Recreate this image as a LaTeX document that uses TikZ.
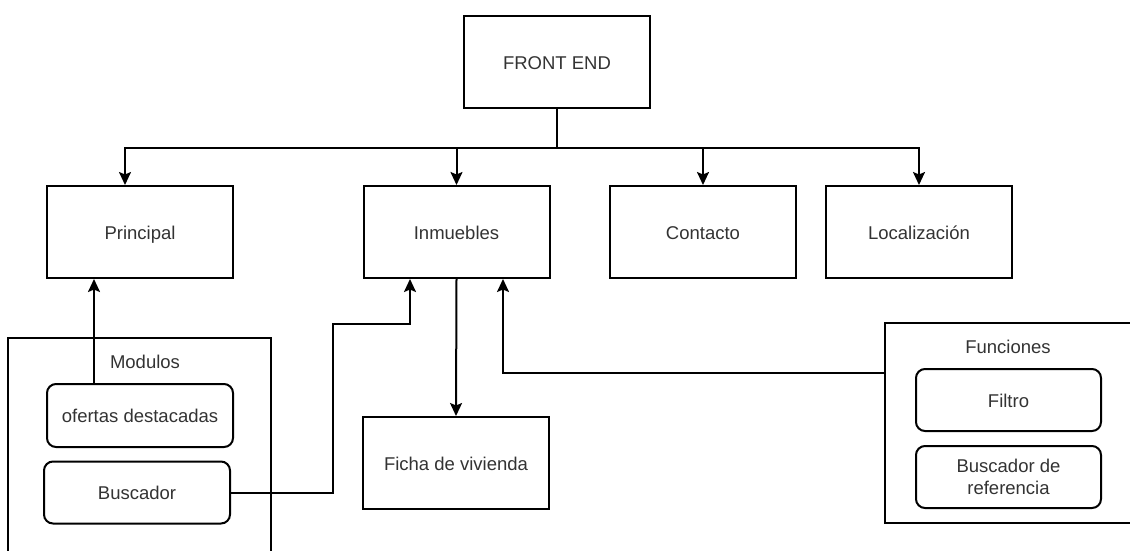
\documentclass[tikz,border=0pt]{standalone}
\usepackage{fontspec}
\setmainfont{Liberation Sans}
\usetikzlibrary{arrows.meta,calc}
\definecolor{txt}{RGB}{51,51,51}
\tikzset{
  base/.style={draw=black, line width=2pt, fill=white, minimum width=186pt,
    inner sep=0pt, text=txt, font=\fontsize{18.5}{21.5}\selectfont, align=center},
  oneline/.style={text height=15.5pt, text depth=1.5pt},
  box/.style={base, oneline, minimum height=92pt},
  rbox/.style={base, rounded corners=9pt, minimum height=62pt},
  group/.style={draw=black, line width=2pt, inner sep=0pt},
  caption/.style={text=txt, font=\fontsize{18.5}{21.5}\selectfont, inner sep=0pt},
  link/.style={draw=black, line width=2pt},
  arr/.style={link, -{Stealth[length=13pt,width=12pt,inset=2.5pt]}}
}
\begin{document}
\begin{tikzpicture}[x=1pt,y=-1pt]
\useasboundingbox (0,0) rectangle (1130,550);
\clip (0,0) rectangle (1130,550);
\fill[white] (0,0) rectangle (1130,550);

% group containers
\node[group, minimum width=263pt, minimum height=262pt] (modulos) at (139.5,469) {};
\node[caption] (modlbl) at (145,362) {Modulos};
\node[group, minimum width=315pt, minimum height=200pt] (funciones) at (1042.5,423) {};
\node[caption] (funlbl) at (1008,347) {Funciones};

% main boxes
\node[box] (fe) at (557,62) {FRONT END};
\node[box] (principal) at (140,232) {Principal};
\node[box] (inmuebles) at (456.5,232) {Inmuebles};
\node[box] (contacto) at (703,232) {Contacto};
\node[box] (localiz) at (919,232) {Localización};
\node[box] (ficha) at (456,463) {Ficha de vivienda};

% rounded boxes inside the groups
\node[rbox, oneline, minimum height=63pt] (ofertas) at (140,415.5) {ofertas destacadas};
\node[rbox, oneline] (buscador) at (137,492.5) {Buscador};
\node[rbox, oneline, minimum width=185pt] (filtro) at (1008.5,400) {Filtro};
\node[rbox, minimum width=185pt] (buscref) at (1008.5,477) {Buscador de\\referencia};

% tree from FRONT END
\draw[link] (fe.south) -- ++(0,39) coordinate (bus);
\draw[arr] (bus) -| ([xshift=-15pt]principal.north);
\draw[arr] (bus) -| (inmuebles.north);
\draw[arr] (bus) -| (contacto.north);
\draw[arr] (bus) -| (localiz.north);

% modules and functions feeding the pages
\draw[arr] ([xshift=-46pt]ofertas.north) -- ([xshift=-46pt]ofertas.north |- principal.south);
\draw[arr] (buscador.east) -- (333,492.5) -- (333,324) -| ([xshift=-46.5pt]inmuebles.south);
\draw[arr] (inmuebles.south) -- (ficha.north);
\draw[arr] ([yshift=50pt]funciones.west) -| ([xshift=46.5pt]inmuebles.south);
\end{tikzpicture}
\end{document}
